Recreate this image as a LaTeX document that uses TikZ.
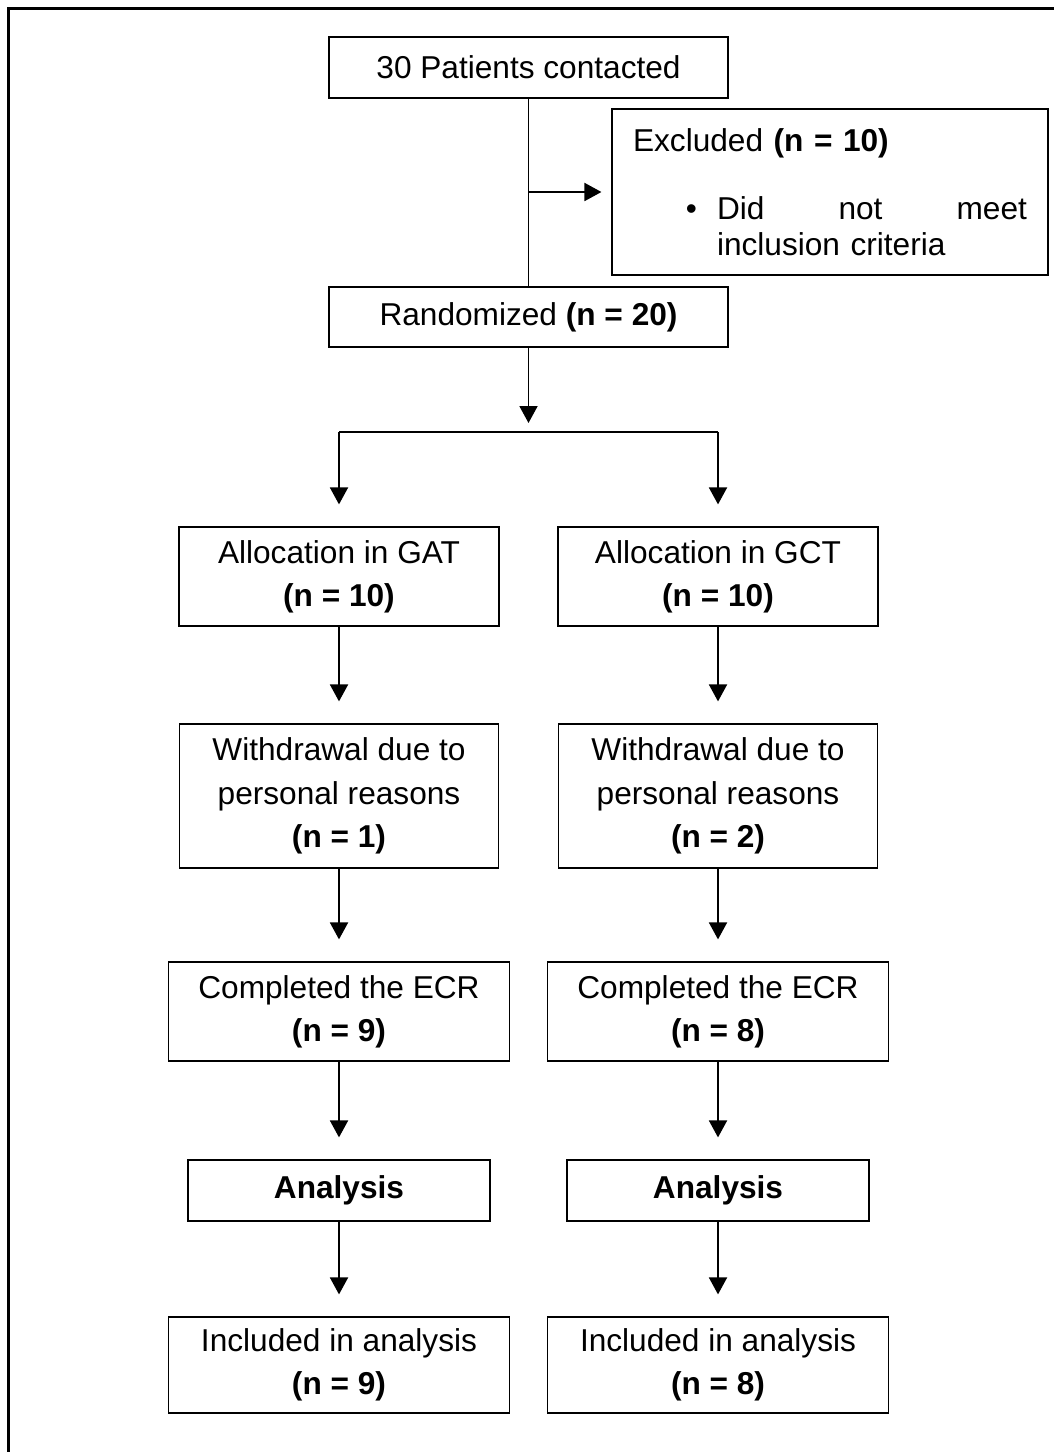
\documentclass[tikz,border=0pt]{standalone}
\usepackage{fontspec}
\setmainfont{Liberation Sans}
\usetikzlibrary{positioning,arrows.meta}

\begin{document}
\begin{tikzpicture}[x=0.02cm,y=-0.02cm]
%styles
	\tikzset{
	box/.style={draw, line width=0.7pt, align=center, inner sep=0pt, font=\fontsize{18}{24.6}\selectfont},
	arrow/.style={-{Triangle[width=3.6mm,length=3.4mm]}, line width=1.1pt, shorten >=4.4mm},
	thinline/.style={line width=0.7pt},
	frame/.style={line width=1.7pt}}

	\useasboundingbox (0,0) rectangle (1054,1452);
	\draw[frame] (8.5,1452)--(8.5,8.5)--(1054,8.5);

%oben
	\node[box, minimum width=7.98cm, minimum height=1.22cm] (contacted) at (528.5,67.5) {30 Patients contacted};
	\node[box, text width=7.88cm, align=left, inner xsep=4.2mm, minimum height=3.32cm,
		font=\fontsize{18}{20.5}\selectfont] (excluded) at (830,192)
		{Excluded \textbf{(n = 10)}\\[18.5pt]
		\hspace*{1.68cm}\llap{\textbullet\hspace{4mm}}Did\hfill not\hfill meet\\
		\hspace*{1.68cm}inclusion criteria};
	\node[box, minimum width=7.98cm, minimum height=1.2cm] (random) at (528.5,317) {Randomized \textbf{(n = 20)}};

	\draw[thinline] (contacted) -- (random);
	\draw[arrow, shorten >=2mm] (contacted |- excluded.west) -- (excluded.west);

	%fork
	\coordinate (fork) at (528.5,432);
	\draw[arrow, shorten >=1.8mm] (random) -- (fork);

%unten
	\foreach \col/\xc/\grp/\nwd/\necr in {gat/339/GAT/1/9, gct/718/GCT/2/8}{
		\node[box, minimum width=6.4cm, minimum height=1.98cm] (alloc\col) at (\xc,576.5) {Allocation in \grp\\\textbf{(n = 10)}};
		\node[box, minimum width=6.38cm, minimum height=2.88cm] (wdr\col) at (\xc,796) {Withdrawal due to\\personal reasons\\\textbf{(n = \nwd)}};
		\node[box, minimum width=6.82cm, minimum height=1.98cm] (ecr\col) at (\xc,1011.5) {Completed the ECR\\\textbf{(n = \necr)}};
		\node[box, minimum width=6.04cm, minimum height=1.22cm] (ana\col) at (\xc,1190.5) {\textbf{Analysis}};
		\node[box, minimum width=6.82cm, minimum height=1.92cm] (incl\col) at (\xc,1365) {Included in analysis\\\textbf{(n = \necr)}};

		\draw[arrow] (fork -| alloc\col) -- (alloc\col);
		\draw[arrow] (alloc\col) -- (wdr\col);
		\draw[arrow] (wdr\col) -- (ecr\col);
		\draw[arrow] (ecr\col) -- (ana\col);
		\draw[arrow] (ana\col) -- (incl\col);
	}
	\draw[thinline] (fork -| allocgat) -- (fork -| allocgct);

\end{tikzpicture}
\end{document}
